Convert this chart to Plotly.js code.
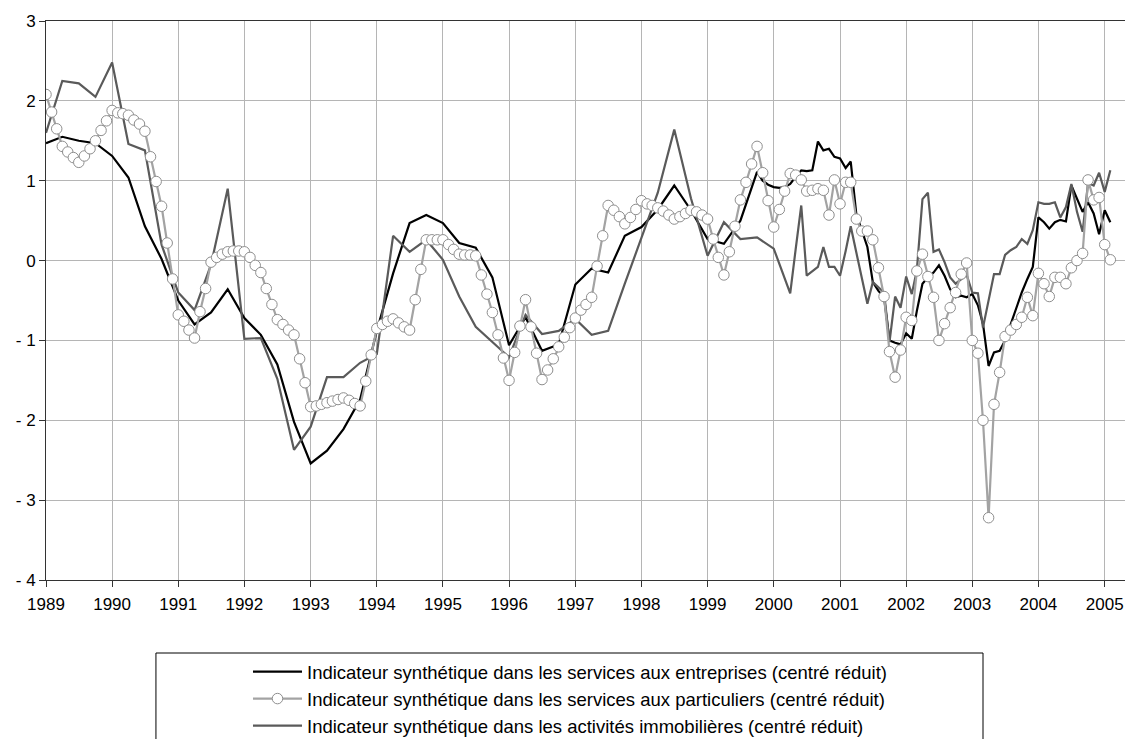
<!DOCTYPE html>
<html>
<head>
<meta charset="utf-8">
<script src="https://cdn.plot.ly/plotly-3.0.1.min.js"></script>
<style>
html, body { margin: 0; padding: 0; background: #ffffff; }
#chart { width: 1125px; height: 739px; }
</style>
</head>
<body>
<div id="chart"></div>
<script>
// ---------- DATA ----------
const yearLabels = ['1989','1990','1991','1992','1993','1994','1995','1996','1997','1998','1999','2000','2001','2002','2003','2004','2005'];
const yTickValues = [-4, -3, -2, -1, 0, 1, 2, 3];
const yTickLabels = ['- 4', '- 3', '- 2', '- 1', '0', '1', '2', '3'];

const seriesNames = [
  'Indicateur synthétique dans les services aux entreprises (centré réduit)',
  'Indicateur synthétique dans les services aux particuliers (centré réduit)',
  'Indicateur synthétique dans les activités immobilières (centré réduit)'
];

// Services aux entreprises: quarterly 1989 Q1 .. 1999 Q4 (Jan, Apr, Jul, Oct)
const entQuarterlyValues = [
  1.47, 1.55, 1.50, 1.47,
  1.31, 1.04, 0.43, 0.02,
  -0.50, -0.80, -0.65, -0.36,
  -0.72, -0.93, -1.30, -2.02,
  -2.54, -2.38, -2.11, -1.74,
  -0.88, -0.16, 0.47, 0.57,
  0.47, 0.22, 0.16, -0.21,
  -1.06, -0.71, -1.13, -1.05,
  -0.30, -0.10, -0.15, 0.31,
  0.42, 0.64, 0.94, 0.63,
  0.27, 0.21, 0.50, 1.11
];
// then monthly Nov 1999 .. Feb 2005
const entMonthlyValues = [
  1.00, 0.95,
  0.92, 0.91, 0.92, 0.96, 1.05, 1.13, 1.12, 1.13, 1.49, 1.38, 1.40, 1.30,
  1.28, 1.16, 1.24, 0.58, 0.38, 0.17, -0.27, -0.38, -0.46, -1.00, -1.03, -1.05,
  -0.91, -0.98, -0.63, -0.29, -0.21, -0.15, -0.06, -0.19, -0.36, -0.46, -0.44, -0.46,
  -0.42, -0.56, -0.79, -1.32, -1.15, -1.13, -1.00, -0.80, -0.58, -0.40, -0.23, -0.08,
  0.54, 0.48, 0.40, 0.48, 0.51, 0.49, 0.94, 0.77, 0.61, 0.73, 0.59, 0.33,
  0.63, 0.48
];

// Services aux particuliers: monthly Jan 1989 .. Feb 2005
const partMonthlyValues = [
  2.08, 1.86, 1.65, 1.43, 1.36, 1.29, 1.23, 1.31, 1.40, 1.50, 1.63, 1.75,
  1.88, 1.85, 1.84, 1.82, 1.76, 1.71, 1.62, 1.30, 0.99, 0.68, 0.22, -0.23,
  -0.68, -0.76, -0.87, -0.97, -0.64, -0.35, -0.02, 0.04, 0.08, 0.11, 0.12, 0.12,
  0.11, 0.04, -0.06, -0.15, -0.35, -0.55, -0.74, -0.80, -0.87, -0.93, -1.23, -1.53,
  -1.83, -1.82, -1.80, -1.78, -1.76, -1.74, -1.72, -1.75, -1.79, -1.82, -1.51, -1.18,
  -0.85, -0.80, -0.76, -0.73, -0.78, -0.83, -0.87, -0.49, -0.11, 0.26, 0.26, 0.26,
  0.26, 0.20, 0.14, 0.08, 0.07, 0.07, 0.06, -0.18, -0.42, -0.65, -0.93, -1.22,
  -1.50, -1.15, -0.82, -0.49, -0.83, -1.16, -1.49, -1.37, -1.23, -1.08, -0.96, -0.84,
  -0.72, -0.62, -0.55, -0.46, -0.07, 0.31, 0.69, 0.63, 0.55, 0.46, 0.54, 0.64,
  0.75, 0.71, 0.69, 0.66, 0.62, 0.57, 0.52, 0.55, 0.59, 0.63, 0.61, 0.57,
  0.52, 0.27, 0.04, -0.18, 0.11, 0.43, 0.76, 0.98, 1.21, 1.43, 1.10, 0.75,
  0.42, 0.64, 0.87, 1.09, 1.07, 1.01, 0.87, 0.88, 0.90, 0.88, 0.57, 1.01,
  0.71, 0.98, 0.98, 0.52, 0.37, 0.37, 0.26, -0.09, -0.45, -1.14, -1.46, -1.12,
  -0.71, -0.75, -0.13, 0.08, -0.20, -0.46, -1.00, -0.79, -0.59, -0.40, -0.17, -0.03,
  -1.00, -1.16, -2.00, -3.22, -1.80, -1.40, -0.95, -0.87, -0.80, -0.71, -0.46, -0.69,
  -0.16, -0.29, -0.45, -0.21, -0.21, -0.29, -0.09, 0.00, 0.09, 1.01, 0.76, 0.79,
  0.20, 0.01
];

// Activités immobilières: quarterly 1989 Q1 .. 2000 Q2 (Jan, Apr, Jul, Oct)
const immoQuarterlyValues = [
  1.60, 2.25, 2.22, 2.05,
  2.48, 1.46, 1.38, 0.20,
  -0.40, -0.62, -0.05, 0.90,
  -0.98, -0.97, -1.48, -2.37,
  -2.08, -1.46, -1.46, -1.28,
  -1.17, 0.31, 0.11, 0.26,
  0.01, -0.45, -0.83, -1.02,
  -1.21, -0.68, -0.92, -0.88,
  -0.73, -0.93, -0.88, -0.29,
  0.30, 0.85, 1.64, 0.78,
  0.06, 0.48, 0.27, 0.29,
  0.15, -0.41
];
// then monthly May 2000 .. Feb 2005
const immoMonthlyValues = [
  0.14, 0.69, -0.19, -0.13, -0.08, 0.17, -0.08, -0.08,
  -0.19, 0.12, 0.43, 0.10, -0.22, -0.54, -0.27, -0.33, -0.40, -1.02, -0.45, -0.59,
  -0.20, -0.42, -0.12, 0.77, 0.85, 0.11, 0.14, -0.02, -0.21, -0.29, -0.23, -0.18,
  -0.40, -0.41, -0.84, -0.50, -0.17, -0.17, 0.07, 0.13, 0.17, 0.27, 0.21, 0.38,
  0.73, 0.71, 0.71, 0.73, 0.54, 0.67, 0.96, 0.61, 0.36, 0.97, 0.94, 1.10,
  0.86, 1.13
];

// ---------- DATES ----------
function monthSeq(year, month, count, step) {
  const out = [];
  let y = year, m = month;
  for (let i = 0; i < count; i++) {
    out.push(y + '-' + String(m).padStart(2, '0') + '-01');
    m += step;
    while (m > 12) { m -= 12; y += 1; }
  }
  return out;
}

const entDates = monthSeq(1989, 1, entQuarterlyValues.length, 3)
  .concat(monthSeq(1999, 11, entMonthlyValues.length, 1));
const entValues = entQuarterlyValues.concat(entMonthlyValues);

const partDates = monthSeq(1989, 1, partMonthlyValues.length, 1);

const immoDates = monthSeq(1989, 1, immoQuarterlyValues.length, 3)
  .concat(monthSeq(2000, 5, immoMonthlyValues.length, 1));
const immoValues = immoQuarterlyValues.concat(immoMonthlyValues);

const yearTickVals = yearLabels.map(y => y + '-01-01');

// ---------- CHART ----------
const FONT = 'Liberation Sans, Arial, Helvetica, sans-serif';

const traces = [
  {
    x: entDates, y: entValues, name: seriesNames[0],
    type: 'scatter', mode: 'lines',
    line: { color: '#000000', width: 2.2 },
    legendrank: 1, legendgroup: 'g1'
  },
  {
    x: immoDates, y: immoValues, name: seriesNames[2],
    type: 'scatter', mode: 'lines',
    line: { color: '#5a5a5a', width: 2.2 },
    legendrank: 3, legendgroup: 'g3'
  },
  {
    x: partDates, y: partMonthlyValues, name: seriesNames[1],
    type: 'scatter', mode: 'lines+markers',
    line: { color: '#a3a3a3', width: 2.2 },
    marker: { symbol: 'circle', size: 10.5, color: '#ffffff', line: { color: '#8e8e8e', width: 1 } },
    legendrank: 2, legendgroup: 'g2'
  }
];

const layout = {
  width: 1125,
  height: 739,
  margin: { l: 46, r: 0, t: 21, b: 159, autoexpand: false },
  paper_bgcolor: '#ffffff',
  plot_bgcolor: '#ffffff',
  font: { family: FONT, size: 17, color: '#000000' },
  showlegend: true,
  xaxis: {
    type: 'date',
    range: ['1989-01-01', '2005-04-23'],
    tickmode: 'array',
    tickvals: yearTickVals,
    ticktext: yearLabels,
    showgrid: true,
    gridcolor: '#b5b5b5',
    gridwidth: 1,
    showline: true,
    linecolor: '#333333',
    linewidth: 1,
    mirror: true,
    ticks: 'outside',
    ticklen: 6,
    tickcolor: '#333333',
    ticklabelstandoff: 3,
    tickfont: { family: FONT, size: 17, color: '#000000' },
    zeroline: false,
    fixedrange: true
  },
  yaxis: {
    range: [-4, 3],
    tickmode: 'array',
    tickvals: yTickValues,
    ticktext: yTickLabels,
    showgrid: true,
    gridcolor: '#b5b5b5',
    gridwidth: 1,
    showline: true,
    linecolor: '#333333',
    linewidth: 1,
    ticks: 'outside',
    ticklen: 6,
    tickcolor: '#333333',
    tickfont: { family: FONT, size: 17, color: '#000000' },
    zeroline: false,
    fixedrange: true
  },
  legend: {
    x: 0.1872,
    xanchor: 'left',
    y: -0.1306,
    yanchor: 'top',
    orientation: 'v',
    traceorder: 'grouped',
    tracegroupgap: 0,
    itemwidth: 49,
    bgcolor: 'rgba(0,0,0,0)',
    borderwidth: 0,
    font: { family: FONT, size: 18.5, color: '#000000' }
  },
  shapes: [
    {
      type: 'rect', xref: 'paper', yref: 'paper',
      x0: 0.1019, x1: 0.8684, y0: -0.34, y1: -0.1306,
      line: { color: '#000000', width: 1 },
      fillcolor: 'rgba(0,0,0,0)'
    }
  ]
};

Plotly.newPlot('chart', traces, layout, { displayModeBar: false, staticPlot: true });
</script>
</body>
</html>
